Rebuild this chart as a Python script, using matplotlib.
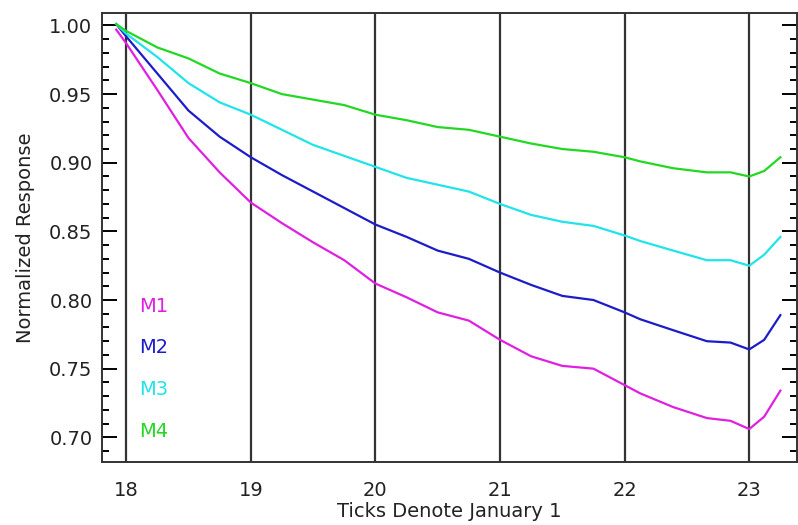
import matplotlib
matplotlib.use("Agg")
import matplotlib.pyplot as plt
from matplotlib.ticker import MultipleLocator

# time axis (days, ticks at January 1 of each year)
days = [17.92, 18.0, 18.25, 18.5, 18.75, 19.0, 19.25, 19.5, 19.75, 20.0,
        20.25, 20.5, 20.75, 21.0, 21.25, 21.5, 21.75, 22.0, 22.125, 22.39,
        22.66, 22.85, 23.0, 23.12, 23.25]

m1 = [0.997, 0.987, 0.953, 0.918, 0.893, 0.871, 0.856, 0.842, 0.829, 0.812,
      0.802, 0.791, 0.785, 0.771, 0.759, 0.752, 0.750, 0.738, 0.732, 0.722,
      0.714, 0.712, 0.706, 0.715, 0.734]
m2 = [1.001, 0.992, 0.965, 0.938, 0.919, 0.904, 0.891, 0.879, 0.867, 0.855,
      0.846, 0.836, 0.830, 0.820, 0.811, 0.803, 0.800, 0.791, 0.786, 0.778,
      0.770, 0.769, 0.764, 0.771, 0.789]
m3 = [1.001, 0.994, 0.977, 0.958, 0.944, 0.935, 0.924, 0.913, 0.905, 0.897,
      0.889, 0.884, 0.879, 0.870, 0.862, 0.857, 0.854, 0.847, 0.843, 0.836,
      0.829, 0.829, 0.825, 0.833, 0.846]
m4 = [1.001, 0.996, 0.984, 0.976, 0.965, 0.958, 0.950, 0.946, 0.942, 0.935,
      0.931, 0.926, 0.924, 0.919, 0.914, 0.910, 0.908, 0.904, 0.901, 0.896,
      0.893, 0.893, 0.890, 0.894, 0.904]

series = [("M1", m1, "#e020e0"), ("M2", m2, "#1c1cc8"),
          ("M3", m3, "#20e4ea"), ("M4", m4, "#22d822")]
year_marks = [18, 19, 20, 21, 22, 23]

plt.rcParams["font.family"] = "DejaVu Sans"
fig = plt.figure(figsize=(7.98, 5.25), dpi=100)
ax = fig.add_axes([0.128, 0.12, 0.871, 0.855])

for x in year_marks:
    ax.axvline(x, color="#333333", linewidth=1.6, zorder=1)

for name, vals, col in series:
    ax.plot(days, vals, color=col, linewidth=1.6, zorder=2)

for i, (name, vals, col) in enumerate(series):
    ax.text(0.053, 0.347 - i * 0.093, name, color=col, fontsize=14,
            transform=ax.transAxes, va="center", ha="left")

ax.set_xlim(17.807, 23.385)
ax.set_ylim(0.682, 1.009)
ax.set_xticks(year_marks)
ax.yaxis.set_major_locator(MultipleLocator(0.05))
ax.yaxis.set_minor_locator(MultipleLocator(0.01))
ax.yaxis.set_major_formatter(matplotlib.ticker.FormatStrFormatter("%.2f"))

ax.tick_params(axis="x", length=0, pad=14, labelsize=14, labelcolor="#222222")
ax.tick_params(axis="y", which="major", direction="in", length=11, width=1.4,
               left=True, right=True, pad=7, labelsize=14, labelcolor="#222222")
ax.tick_params(axis="y", which="minor", direction="in", length=5, width=1.4,
               left=True, right=True)

for s in ax.spines.values():
    s.set_linewidth(1.4)
    s.set_color("#333333")

ax.set_xlabel("Ticks Denote January 1", fontsize=14, color="#222222", labelpad=1)
ax.set_ylabel("Normalized Response", fontsize=14, color="#222222", labelpad=10)

fig.savefig("out.png", dpi=100)
